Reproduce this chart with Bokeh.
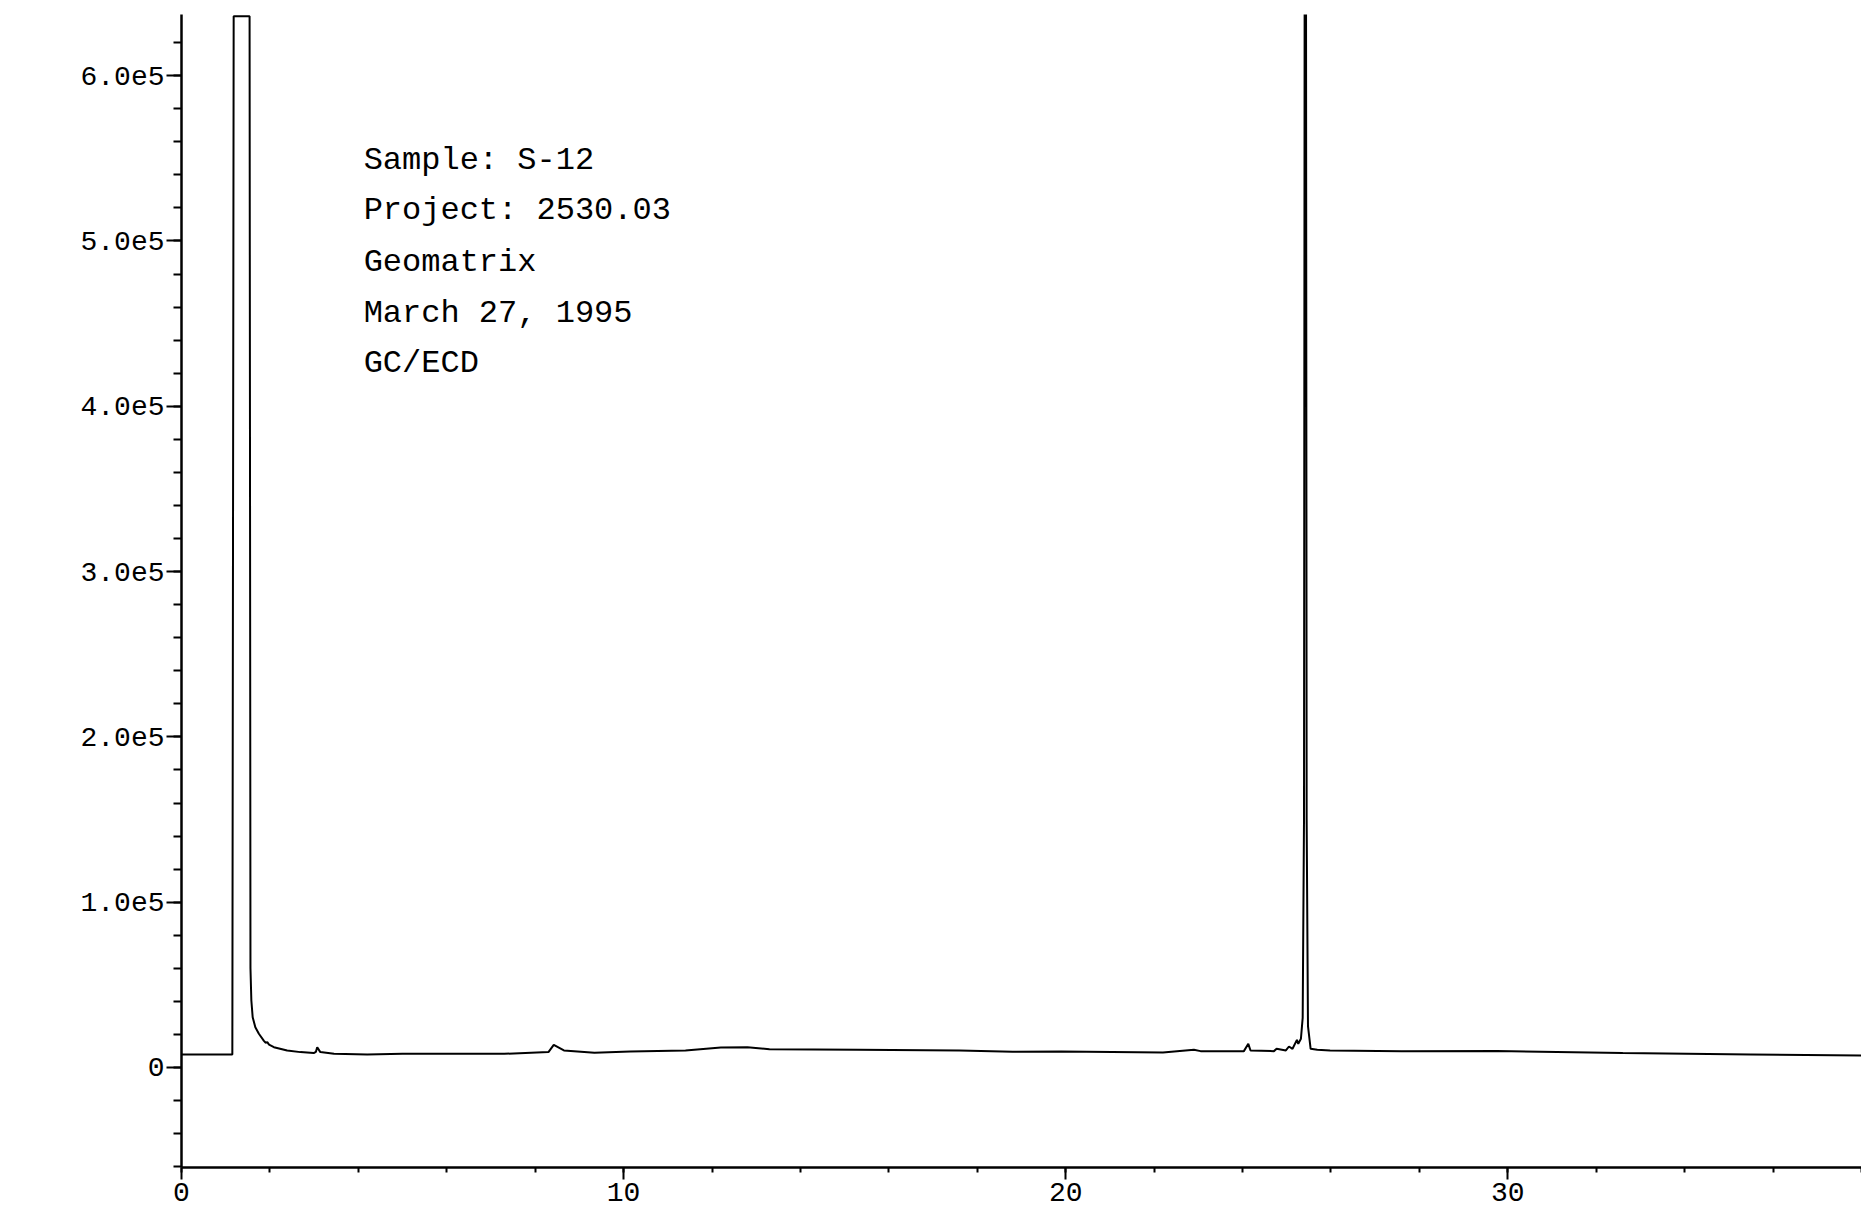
from bokeh.plotting import figure
from bokeh.models import Range1d, FixedTicker, Label
from bokeh.embed import file_html
from bokeh.resources import INLINE

# ---- data (time in minutes, detector response) ----
time_min = [0.0, 0.5, 1.0, 1.15, 1.18, 1.54, 1.56, 1.58, 1.61, 1.67, 1.75, 1.86,
            1.90, 1.94, 1.98, 2.09, 2.39, 2.69, 2.99, 3.04, 3.07, 3.14, 3.45, 4.2,
            5.0, 6.0, 7.3, 8.3, 8.42, 8.65, 9.34, 10.15, 11.4, 12.2, 12.8, 13.3,
            15.3, 17.6, 18.8, 19.9, 22.2, 22.9, 23.05, 24.03, 24.13, 24.18, 24.71,
            24.77, 24.98, 25.05, 25.13, 25.23, 25.26, 25.32, 25.36, 25.39, 25.42,
            25.45, 25.48, 25.54, 25.69, 25.98, 27.6, 29.75, 32.6, 35.5, 38.0]
signal = [7900, 7900, 7900, 7900, 636000, 636000, 60000, 40500, 30400, 24400, 20400,
          16300, 15000, 15300, 13800, 12300, 10300, 9300, 8700, 9500, 12300, 9300,
          8300, 7900, 8300, 8300, 8300, 9300, 13700, 10300, 8900, 9700, 10300, 12100,
          12300, 11100, 10700, 10300, 9500, 9700, 9100, 10700, 9900, 9900, 14300,
          10300, 9900, 11300, 10300, 12700, 11300, 16700, 14300, 17400, 30000, 150000,
          1200000, 150000, 25000, 11300, 10700, 10300, 9900, 10000, 8700, 7900, 7300]

x_tick_values = [0, 10, 20, 30]
x_tick_labels = ["0", "10", "20", "30"]
y_tick_values = [0, 100000, 200000, 300000, 400000, 500000, 600000]
y_tick_labels = ["0", "1.0e5", "2.0e5", "3.0e5", "4.0e5", "5.0e5", "6.0e5"]

annotation_lines = ["Sample:  S-12", "Project:  2530.03", "Geomatrix",
                    "March 27, 1995", "GC/ECD"]

FONT = "Liberation Mono"

p = figure(width=1861, height=1213, output_backend="svg", toolbar_location=None,
           x_range=Range1d(0, 38), y_range=Range1d(-60500, 637000),
           min_border_left=181, min_border_right=0, min_border_top=14,
           min_border_bottom=46)
p.outline_line_color = None
p.xgrid.visible = False
p.ygrid.visible = False
p.background_fill_color = "white"
p.border_fill_color = "white"

p.line(time_min, signal, line_color="black", line_width=2)

# axes styling
p.xaxis.ticker = FixedTicker(ticks=x_tick_values,
                             minor_ticks=list(range(0, 39, 2)))
p.xaxis.major_label_overrides = {v: s for v, s in zip(x_tick_values, x_tick_labels)}
p.yaxis.ticker = FixedTicker(ticks=y_tick_values,
                             minor_ticks=list(range(-60000, 637000, 20000)))
p.yaxis.major_label_overrides = {v: s for v, s in zip(y_tick_values, y_tick_labels)}

for ax in (p.xaxis[0], p.yaxis[0]):
    ax.axis_line_color = "black"
    ax.axis_line_width = 2.5
    ax.major_tick_line_color = "black"
    ax.major_tick_line_width = 2
    ax.minor_tick_line_color = "black"
    ax.minor_tick_line_width = 2
    ax.major_tick_in = 0
    ax.minor_tick_in = 0
    ax.major_label_text_font = FONT
    ax.major_label_text_font_size = "28px"
    ax.major_label_text_color = "black"

p.xaxis.major_tick_out = 12
p.xaxis.minor_tick_out = 5
p.xaxis.major_label_standoff = 3
p.yaxis.major_tick_out = 15
p.yaxis.minor_tick_out = 8
p.yaxis.major_label_standoff = 2

# annotation block
row_values = [548700, 518400, 487000, 456100, 425900]
for txt, yv in zip(annotation_lines, row_values):
    p.add_layout(Label(x=4.12, y=yv, text=txt, text_font=FONT,
                       text_font_size="32px", text_baseline="middle",
                       text_align="left", text_color="black"))

open("out.html", "w").write(file_html(p, INLINE))
